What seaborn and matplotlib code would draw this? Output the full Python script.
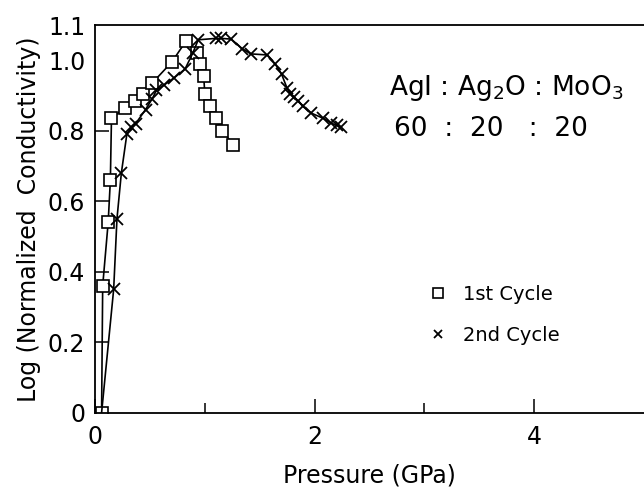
import pandas as pd
import seaborn as sns
import matplotlib.pyplot as plt
from matplotlib.lines import Line2D

# 1st cycle (squares)
p1 = [0.06, 0.07, 0.12, 0.14, 0.15, 0.27, 0.36, 0.44, 0.52, 0.70, 0.83,
      0.93, 0.96, 0.99, 1.00, 1.05, 1.10, 1.16, 1.26]
c1 = [0.0, 0.36, 0.54, 0.66, 0.835, 0.865, 0.885, 0.905, 0.935, 0.995, 1.055,
      1.02, 0.99, 0.955, 0.905, 0.87, 0.835, 0.80, 0.76]

# 2nd cycle (crosses)
p2 = [0.06, 0.17, 0.20, 0.24, 0.29, 0.33, 0.37, 0.46, 0.52, 0.56, 0.63, 0.72,
      0.82, 0.89, 0.94, 1.10, 1.15, 1.24, 1.34, 1.42, 1.57, 1.64, 1.70, 1.75,
      1.78, 1.81, 1.85, 1.89, 1.97, 2.08, 2.15, 2.20, 2.24]
c2 = [0.0, 0.35, 0.55, 0.68, 0.79, 0.81, 0.82, 0.86, 0.89, 0.915, 0.93, 0.95,
      0.975, 1.02, 1.058, 1.062, 1.062, 1.06, 1.033, 1.018, 1.015, 0.99, 0.96,
      0.92, 0.905, 0.895, 0.885, 0.87, 0.85, 0.835, 0.822, 0.815, 0.81]

cycle_names = ["1st Cycle", "2nd Cycle"]
ytick_vals = [0, 0.2, 0.4, 0.6, 0.8, 1.0, 1.1]
ytick_labels = ["0", "0.2", "0.4", "0.6", "0.8", "1.0", "1.1"]
xtick_vals = [0, 2, 4]
xtick_labels = ["0", "2", "4"]

sns.set_style("ticks")
plt.rcParams["font.family"] = ["DejaVu Sans"]
plt.rcParams["text.color"] = "black"
plt.rcParams["axes.labelcolor"] = "black"
plt.rcParams["xtick.color"] = "black"
plt.rcParams["ytick.color"] = "black"

df1 = pd.DataFrame({"pressure": p1, "cond": c1})
df2 = pd.DataFrame({"pressure": p2, "cond": c2})

fig = plt.figure(figsize=(6.44, 4.9), dpi=100)
ax = fig.add_axes([95 / 644, 77.3 / 490, 549 / 644, 387.7 / 490])

sns.lineplot(data=df1, x="pressure", y="cond", sort=False, estimator=None,
             color="black", lw=1.2, marker="s", ms=9, mfc="white",
             mec="black", mew=1.2, ax=ax)
sns.lineplot(data=df2, x="pressure", y="cond", sort=False, estimator=None,
             color="black", lw=1.2, marker="x", ms=9, mec="black", mew=1.3,
             markevery=list(range(1, len(p2))), ax=ax)

ax.set_xlim(0, 5.0)
ax.set_ylim(0, 1.1)
ax.set_xticks(xtick_vals)
ax.set_xticklabels(xtick_labels)
ax.set_xticks([1, 3], minor=True)
ax.set_yticks(ytick_vals)
ax.set_yticklabels(ytick_labels)
for t in ax.yaxis.get_major_ticks()[5:]:
    t.tick1line.set_visible(False)

ax.tick_params(axis="both", which="major", direction="in", length=10,
               width=1.1, labelsize=17)
ax.tick_params(axis="x", which="major", pad=9)
ax.tick_params(axis="y", which="major", pad=7)
ax.tick_params(axis="x", which="minor", direction="in", length=7, width=1.1)

for side in ["left", "top", "bottom"]:
    ax.spines[side].set_visible(True)
    ax.spines[side].set_linewidth(1.3)
    ax.spines[side].set_color("black")
ax.spines["right"].set_visible(False)

ax.set_xlabel("Pressure (GPa)", fontsize=17, labelpad=10)
ax.set_ylabel("Log (Normalized  Conductivity)", fontsize=17, labelpad=5)

ax.text(2.68, 0.92, r"AgI : Ag$_2$O : MoO$_3$", fontsize=19, va="center",
        ha="left")
ax.text(2.72, 0.805, "60  :  20   :  20", fontsize=19, va="center", ha="left")

handles = [
    Line2D([], [], ls="none", marker="s", ms=7, mfc="white", mec="black",
           mew=1.2),
    Line2D([], [], ls="none", marker="x", ms=6, mec="black", mew=1.3),
]
ax.legend(handles, cycle_names, loc="center left",
          bbox_to_anchor=(0.575, 0.252), frameon=False, fontsize=14,
          handlelength=1.0, handletextpad=0.8, labelspacing=1.1)

fig.savefig("out.png", dpi=100)
plt.close(fig)
